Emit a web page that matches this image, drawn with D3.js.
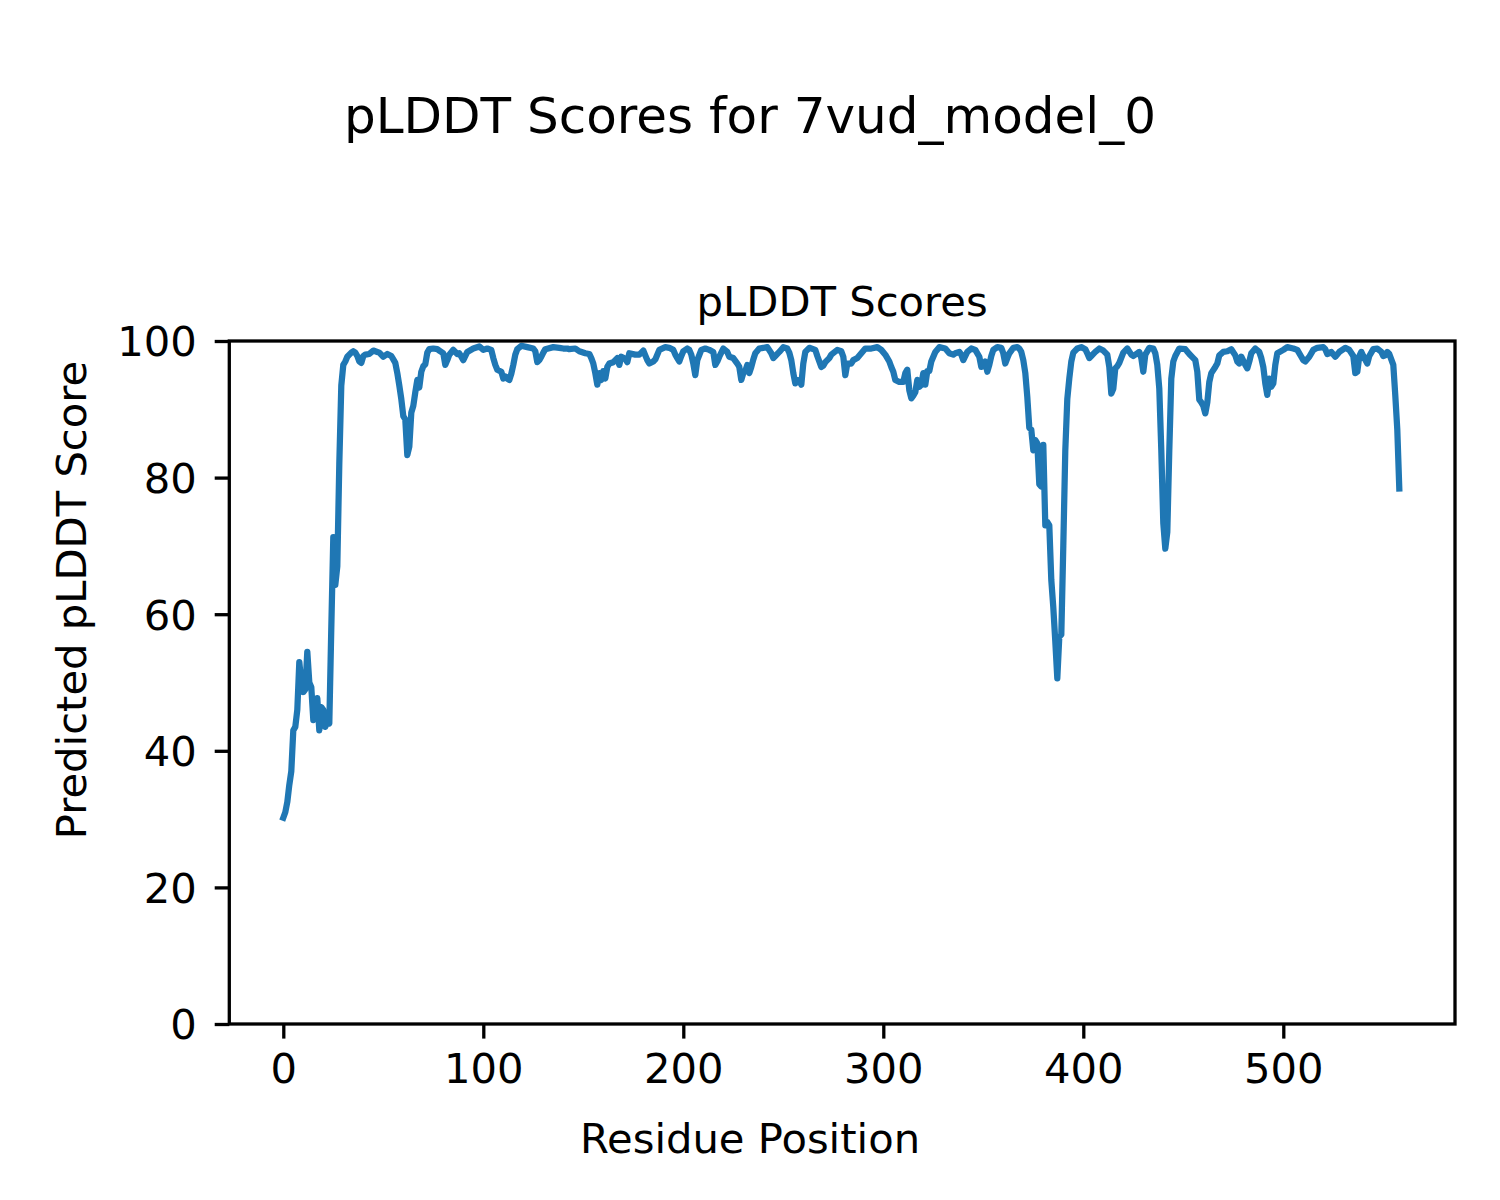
<!DOCTYPE html>
<html>
<head>
<meta charset="utf-8">
<script src="https://cdn.jsdelivr.net/npm/d3@7"></script>
<style>
  html, body { margin: 0; padding: 0; background: #fff; }
  svg text { font-family: "DejaVu Sans", sans-serif; fill: #000; }
</style>
</head>
<body>
<svg id="chart" width="1500" height="1200"></svg>
<script>
// ---- data ----
const residues = [
  0,1,2,3,4,5,6,7,8,9,10,11,12,13,14,15,16,17,18,19,20,21,22,23,24,25,26,27,28,29,
  30,31,32,33,34,35,36,37,38,39,40,41,43,45,47,48,50,52,54,55,56,57,58,59,60,61,62,63,64,65,
  66,67,68,69,70,71,72,73,75,77,78,80,81,82,83,85,87,88,90,92,95,98,100,102,104,105,106,107,109,110,
  111,112,113,114,115,116,117,119,122,125,126,127,128,129,130,131,135,138,140,142,143,146,148,151,153,154,155,156,157,158,
  159,160,161,162,163,165,167,168,169,171,172,173,176,178,180,181,182,183,185,186,188,191,193,195,196,197,198,199,200,202,
  203,204,205,206,207,209,211,213,215,216,217,218,220,222,223,225,227,228,229,230,231,232,233,234,235,236,238,242,244,245,
  246,248,250,252,253,254,255,256,257,258,259,260,261,263,266,267,268,269,270,271,273,274,277,279,280,281,282,284,285,287,
  289,291,294,297,299,301,303,304,305,306,308,310,311,312,313,314,315,316,317,318,319,320,321,322,323,324,326,328,331,333,
  335,336,338,339,340,342,344,346,348,349,350,351,352,353,354,355,357,359,360,361,362,363,365,367,368,369,370,371,372,373,
  374,375,376,377,378,379,380,381,382,383,384,385,386,387,388,389,390,391,392,393,394,395,397,399,401,402,403,404,406,408,
  410,412,413,414,415,416,417,418,420,422,424,425,427,428,429,430,431,433,435,436,437,438,439,440,441,442,443,444,445,446,
  448,451,453,455,456,457,458,459,460,461,462,463,464,466,467,468,470,472,474,476,477,478,479,481,482,483,484,486,488,489,
  490,491,492,493,494,495,496,497,500,502,505,507,509,510,511,513,515,517,520,521,522,523,524,526,528,531,533,535,536,537,
  538,539,540,542,543,545,547,549,550,551,552,553,555,556,557,558
];
const scores = [
  30.2,31.0,32.5,35.0,37.0,43.0,43.5,46.0,53.0,50.0,48.6,49.0,54.5,50.0,49.3,44.5,44.8,47.7,43.0,46.4,46.0,43.5,44.5,44.0,58.0,71.3,64.3,67.0,82.0,93.5,
  96.5,97.0,97.7,98.0,98.3,98.5,98.3,97.8,97.0,96.8,97.8,98.0,98.1,98.6,98.4,98.3,97.7,98.1,97.8,97.3,96.8,95.3,93.5,91.5,89.0,88.5,83.3,84.5,89.5,90.5,
  92.5,94.3,93.2,95.5,96.3,96.6,98.3,98.8,98.9,98.8,98.6,98.2,96.5,97.2,98.0,98.7,98.1,98.2,97.2,98.4,98.9,99.2,98.7,98.9,98.7,97.5,96.5,95.8,95.5,94.5,
  94.8,94.5,94.3,95.2,96.5,98.0,98.8,99.3,99.1,98.9,98.5,96.9,97.2,97.7,98.3,98.8,99.1,99.0,98.9,98.9,98.8,98.9,98.5,98.2,98.1,97.5,96.7,95.3,93.6,95.3,
  94.3,95.6,94.5,96.2,96.7,96.9,97.5,96.5,97.7,97.4,96.9,98.2,98.0,98.0,98.6,97.9,97.2,96.7,97.0,97.3,98.7,99.1,99.0,98.7,98.0,97.5,97.0,97.8,98.5,98.9,
  98.7,98.0,96.7,95.0,97.2,98.7,98.9,98.7,98.4,96.5,97.0,97.7,98.9,98.4,97.7,97.5,96.7,96.2,94.3,95.3,95.6,96.5,95.3,96.2,97.3,98.2,98.9,99.1,98.2,97.5,
  97.8,98.4,99.1,98.9,98.3,97.2,95.3,93.8,94.3,94.2,93.6,96.7,98.4,99.0,98.7,97.8,97.0,96.2,96.4,96.9,97.5,98.0,98.7,98.5,97.7,95.0,96.7,96.7,97.2,97.5,
  98.2,98.9,98.9,99.1,98.7,98.0,97.0,96.2,95.5,94.3,94.0,94.0,95.3,95.8,92.8,91.6,92.0,92.5,94.3,93.3,93.6,95.3,93.6,95.6,95.6,97.0,98.4,99.1,98.9,98.2,
  98.0,98.2,98.4,98.0,97.2,98.4,98.9,98.7,97.7,96.2,96.4,97.0,95.5,96.5,97.8,98.7,99.1,99.0,98.2,96.7,97.5,98.2,99.0,99.1,98.9,98.4,97.2,95.3,91.8,87.3,
  87.0,84.0,85.5,85.0,79.0,78.7,84.8,73.0,73.5,73.0,65.0,61.0,56.0,50.6,56.7,57.0,70.0,84.0,91.5,94.5,97.0,98.3,98.9,99.1,98.8,98.2,97.5,97.8,98.4,98.9,
  98.6,98.0,96.2,92.3,93.0,96.0,96.3,96.8,98.3,98.9,98.0,97.8,98.2,98.4,97.5,95.5,98.0,99.0,98.9,98.2,96.5,93.0,84.0,73.3,69.6,72.0,84.0,94.5,97.0,97.8,
  98.9,98.8,98.1,97.5,97.2,95.5,91.4,91.0,90.5,89.4,91.0,94.0,95.3,96.2,96.7,97.9,98.4,98.5,98.8,97.9,97.0,96.7,97.7,96.5,96.0,97.0,98.2,98.9,98.4,97.5,
  96.2,93.8,92.1,94.5,93.3,93.8,96.5,98.2,98.7,99.1,98.9,98.7,97.7,97.2,97.0,97.7,98.7,99.0,99.1,98.8,98.1,98.2,98.4,97.7,98.4,99.0,98.7,97.8,95.3,95.5,
  97.8,98.4,97.8,96.7,97.8,98.8,98.9,98.4,97.8,97.9,98.4,98.1,96.5,92.0,87.0,78.4
];
const xTicks = [0, 100, 200, 300, 400, 500];
const yTicks = [0, 20, 40, 60, 80, 100];
const figTitle = "pLDDT Scores for 7vud_model_0";
const axTitle = "pLDDT Scores";
const xLabel = "Residue Position";
const yLabel = "Predicted pLDDT Score";

(function () {
  // ---- layout ----
  const pLeft = 229.3, pRight = 1455, pTop = 341, pBottom = 1024;
  const fs = 41.7, tickLen = 14.6, spineW = 3.3;

  const svg = d3.select("#chart");
  const points = residues.map((r, i) => ({ r, s: scores[i] }));

  const x = d3.scaleLinear().domain([-27, 585.85]).range([pLeft, pRight]);
  const y = d3.scaleLinear().domain([0, 100]).range([pBottom, pTop]);

  // line
  const line = d3.line().x(d => x(d.r)).y(d => y(d.s));
  svg.append("path")
    .datum(points)
    .attr("d", line)
    .attr("fill", "none")
    .attr("stroke", "#1f77b4")
    .attr("stroke-width", 6.25)
    .attr("stroke-linejoin", "round")
    .attr("stroke-linecap", "square");

  // axes
  const xAxis = d3.axisBottom(x).tickValues(xTicks).tickSize(tickLen).tickPadding(14.6).tickFormat(d3.format("d"));
  const yAxis = d3.axisLeft(y).tickValues(yTicks).tickSize(tickLen).tickPadding(14.6).tickFormat(d3.format("d"));

  const gx = svg.append("g").attr("transform", `translate(0,${pBottom})`).call(xAxis);
  const gy = svg.append("g").attr("transform", `translate(${pLeft},0)`).call(yAxis);
  [gx, gy].forEach(g => {
    g.select(".domain").remove();
    g.selectAll(".tick line").attr("stroke", "#000").attr("stroke-width", spineW);
    g.selectAll(".tick text")
      .attr("font-family", "DejaVu Sans")
      .attr("font-size", fs)
      .attr("fill", "#000");
  });
  gx.selectAll(".tick text").attr("dy", null).attr("y", 59);
  gy.selectAll(".tick text").attr("dy", null).attr("x", -32.6).attr("y", 14.8);

  // frame
  svg.append("rect")
    .attr("x", pLeft).attr("y", pTop)
    .attr("width", pRight - pLeft).attr("height", pBottom - pTop)
    .attr("fill", "none").attr("stroke", "#000").attr("stroke-width", spineW);

  // texts
  svg.append("text").attr("x", 750).attr("y", 133.3)
    .attr("text-anchor", "middle").attr("font-size", 50).text(figTitle);
  svg.append("text").attr("x", (pLeft + pRight) / 2).attr("y", 316)
    .attr("text-anchor", "middle").attr("font-size", fs).text(axTitle);
  svg.append("text").attr("x", 750).attr("y", 1153)
    .attr("text-anchor", "middle").attr("font-size", fs).text(xLabel);
  svg.append("text").attr("transform", "translate(85.5,600) rotate(-90)")
    .attr("text-anchor", "middle").attr("font-size", fs).text(yLabel);
})();
</script>
</body>
</html>
